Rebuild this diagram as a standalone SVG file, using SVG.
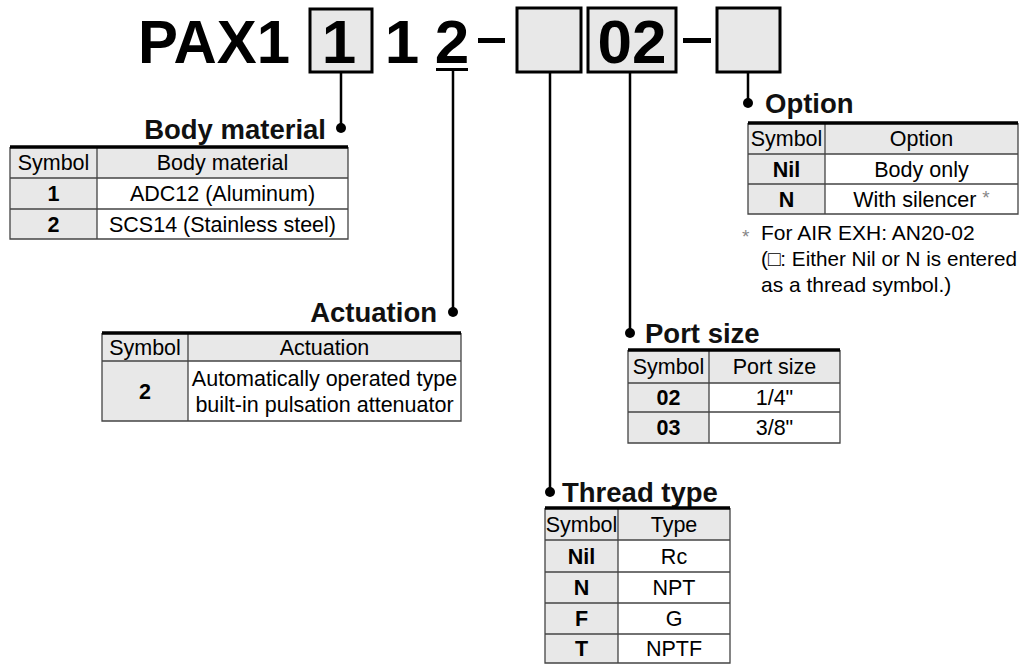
<svg xmlns="http://www.w3.org/2000/svg" width="1025" height="665" viewBox="0 0 1025 665">
<style>
.box{fill:#e8e8e8;stroke:#000;stroke-width:3}
.conn{stroke:#000;stroke-width:2.5;fill:none}
.hd{fill:#e8e8e8}
.grid{stroke:#444;stroke-width:1.3;fill:none}
.top{stroke:#000;stroke-width:3.5}
text{font-family:"Liberation Sans",Arial,sans-serif;fill:#000}
.t{font-size:21.5px;text-anchor:middle}
.b{font-weight:bold}
.title{font-weight:bold;font-size:27.5px;fill:#111}
.big{font-size:62px;font-weight:bold;text-anchor:middle}
.ast{font-size:19px;fill:#888}
.fn{font-size:21px}
</style>
<rect width="1025" height="665" fill="#fff"/>
<g id="model-code">
<text x="138" y="63" font-size="62" font-weight="bold" textLength="152" lengthAdjust="spacingAndGlyphs">PAX1</text>
<rect class="box" x="310" y="9" width="62" height="63"/>
<text class="big" x="339" y="63">1</text>
<text class="big" x="402" y="63">1</text>
<text class="big" x="452" y="63">2</text>
<rect x="436" y="68" width="32" height="3" fill="#000"/>
<rect x="478" y="38" width="27" height="5" fill="#000"/>
<rect class="box" x="517" y="8" width="64" height="64"/>
<rect class="box" x="588" y="8" width="88" height="64"/>
<text class="big" x="632" y="63">02</text>
<rect x="683" y="38" width="28" height="5" fill="#000"/>
<rect class="box" x="717" y="8" width="63" height="64"/>
</g>
<g id="connectors">
<path class="conn" d="M341 73V128 M453 71V312 M550 73V492 M630 73V333 M748 73V103"/>
<circle cx="341" cy="128" r="5"/>
<circle cx="453" cy="312" r="5"/>
<circle cx="550" cy="492" r="5"/>
<circle cx="630" cy="333" r="5"/>
<circle cx="748" cy="103" r="5"/>
</g>
<g id="body-material">
<text class="title" x="326" y="139" text-anchor="end">Body material</text>
<rect class="hd" x="10" y="147" width="338" height="31"/>
<rect class="hd" x="10" y="178" width="87" height="61"/>
<path class="grid" d="M10 147V239H348V147 M97 147V239 M10 178H348 M10 209H348"/>
<line class="top" x1="10" y1="147" x2="348" y2="147"/>
<text class="t" x="53.5" y="170">Symbol</text>
<text class="t" x="222.5" y="170">Body material</text>
<text class="t b" x="53.5" y="201">1</text>
<text class="t" x="222.5" y="201">ADC12 (Aluminum)</text>
<text class="t b" x="53.5" y="231.5">2</text>
<text class="t" x="222.5" y="231.5">SCS14 (Stainless steel)</text>
</g>
<g id="actuation">
<text class="title" x="437" y="322" text-anchor="end">Actuation</text>
<rect class="hd" x="102" y="333" width="359" height="28"/>
<rect class="hd" x="102" y="361" width="86" height="60"/>
<path class="grid" d="M102 333V421H461V333 M188 333V421 M102 361H461"/>
<line class="top" x1="102" y1="333" x2="461" y2="333"/>
<text class="t" x="145" y="354.5">Symbol</text>
<text class="t" x="324.5" y="354.5">Actuation</text>
<text class="t b" x="145" y="398.5">2</text>
<text class="t" x="324.5" y="386">Automatically operated type</text>
<text class="t" x="324.5" y="412">built-in pulsation attenuator</text>
</g>
<g id="option">
<text class="title" x="765" y="113">Option</text>
<rect class="hd" x="748" y="123" width="270" height="31"/>
<rect class="hd" x="748" y="154" width="77" height="60"/>
<path class="grid" d="M748 123V214H1018V123 M825 123V214 M748 154H1018 M748 184H1018"/>
<line class="top" x1="748" y1="123" x2="1018" y2="123"/>
<text class="t" x="786.5" y="146">Symbol</text>
<text class="t" x="921.5" y="146">Option</text>
<text class="t b" x="786.5" y="176.5">Nil</text>
<text class="t" x="921.5" y="176.5">Body only</text>
<text class="t b" x="786.5" y="206.5">N</text>
<text class="t" x="921.5" y="206.5">With silencer <tspan class="ast" dy="-3">*</tspan></text>
<text class="ast" x="742" y="243">*</text>
<text class="fn" x="761" y="240">For AIR EXH: AN20-02</text>
<text class="fn" x="761" y="266" textLength="256" lengthAdjust="spacingAndGlyphs">(□: Either Nil or N is entered</text>
<text class="fn" x="761" y="292">as a thread symbol.)</text>
</g>
<g id="port-size">
<text class="title" x="645" y="343">Port size</text>
<rect class="hd" x="628" y="350" width="212" height="33"/>
<rect class="hd" x="628" y="383" width="81" height="60"/>
<path class="grid" d="M628 350V443H840V350 M709 350V443 M628 383H840 M628 412H840"/>
<line class="top" x1="628" y1="350" x2="840" y2="350"/>
<text class="t" x="668.5" y="374">Symbol</text>
<text class="t" x="774.5" y="374">Port size</text>
<text class="t b" x="668.5" y="405">02</text>
<text class="t" x="774.5" y="405">1/4"</text>
<text class="t b" x="668.5" y="435">03</text>
<text class="t" x="774.5" y="435">3/8"</text>
</g>
<g id="thread-type">
<text class="title" x="562" y="502">Thread type</text>
<rect class="hd" x="545" y="508" width="185" height="32"/>
<rect class="hd" x="545" y="540" width="73" height="123"/>
<path class="grid" d="M545 508V663H730V508 M618 508V663 M545 540H730 M545 572H730 M545 603H730 M545 634H730"/>
<line class="top" x1="545" y1="508" x2="730" y2="508"/>
<text class="t" x="581.5" y="531.5">Symbol</text>
<text class="t" x="674" y="531.5">Type</text>
<text class="t b" x="581.5" y="563.5">Nil</text>
<text class="t" x="674" y="563.5">Rc</text>
<text class="t b" x="581.5" y="595">N</text>
<text class="t" x="674" y="595">NPT</text>
<text class="t b" x="581.5" y="626">F</text>
<text class="t" x="674" y="626">G</text>
<text class="t b" x="581.5" y="656">T</text>
<text class="t" x="674" y="656">NPTF</text>
</g>
</svg>
